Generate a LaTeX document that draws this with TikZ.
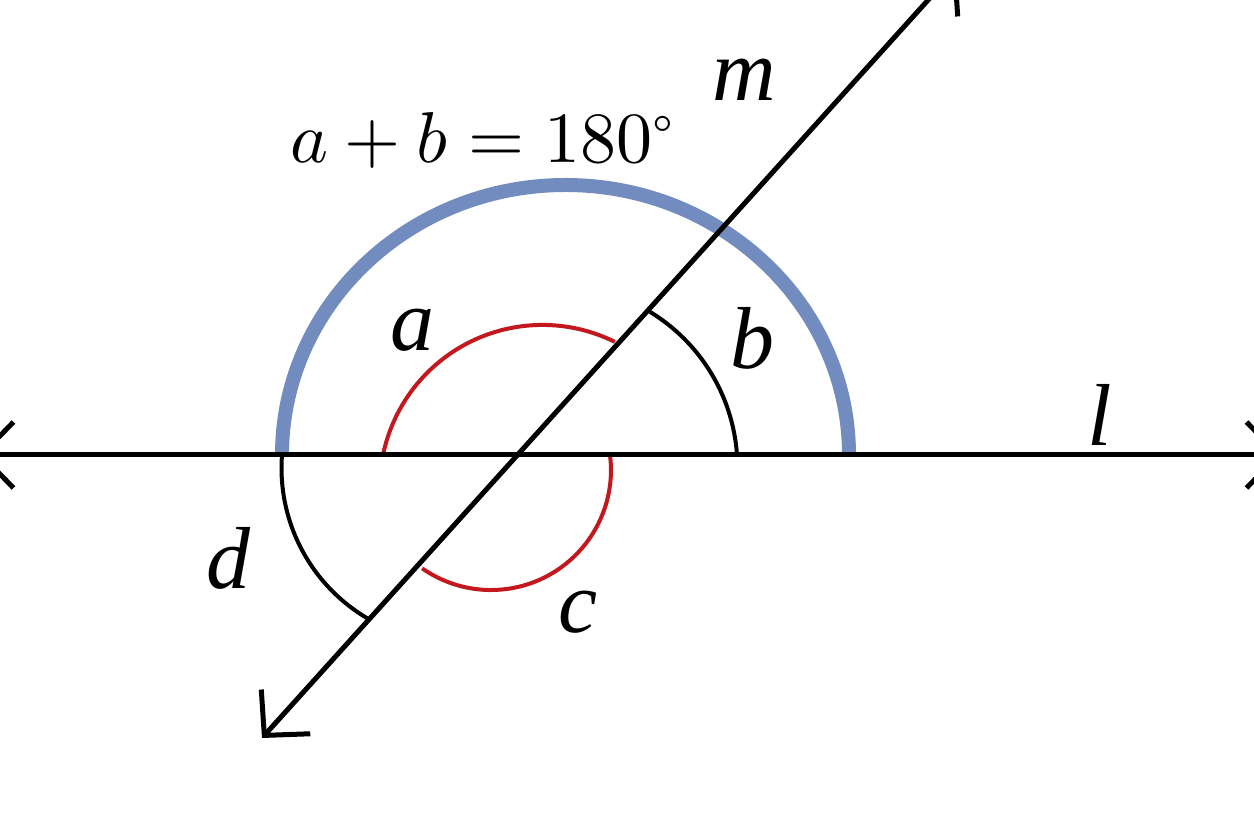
\documentclass[tikz,border=0pt]{standalone}
\usepackage{fontspec}
\usepackage{unicode-math}
\setmathfont{Latin Modern Math}
\newfontfamily\labfont{Liberation Serif}
\usetikzlibrary{arrows.meta}
\definecolor{arcblue}{RGB}{115,140,192}
\definecolor{arcred}{RGB}{195,25,30}
\tikzset{
  mainline/.style={line width=5pt, black, {Straight Barb[length=32pt,width=66pt]}-{Straight Barb[length=32pt,width=66pt]}},
  blackarc/.style={line width=4pt, black},
  redarc/.style={line width=4pt, arcred},
  bluearc/.style={line width=14pt, arcblue},
  lab/.style={inner sep=0pt, font=\fontsize{88}{100}\selectfont\labfont\itshape},
}
\begin{document}
\begin{tikzpicture}[x=1pt,y=1pt]
\useasboundingbox (0,0) rectangle (1254,832);
\clip (0,0) rectangle (1254,832);
\fill[white] (0,0) rectangle (1254,832);
% key points
\coordinate (O) at (518,377);
\coordinate (lL) at (-22,377);
\coordinate (lR) at (1282,377);
\coordinate (mB) at (262,94);
\coordinate (mT) at (957,864);
% blue semicircle
\coordinate (bl) at (282,377);
\draw[bluearc] (bl) arc[start angle=180, end angle=0, x radius=283.5, y radius=270];
% red arcs
\coordinate (as) at (383,377);
\draw[redarc] (as) arc[start angle=168.4, end angle=63.6, radius=162.8];
\coordinate (cs) at (610,377);
\draw[redarc] (cs) arc[start angle=7.2, end angle=-125, radius=120];
% black arcs
\coordinate (bs) at (737,377);
\draw[blackarc] (bs) arc[start angle=3.9, end angle=58.7, radius=182];
\coordinate (ds) at (282,377);
\draw[blackarc] (ds) arc[start angle=175.7, end angle=240.5, radius=174.4];
% lines
\draw[mainline] (lL) -- (lR);
\draw[mainline] (mB) -- (mT);
% labels
\node[lab] (labm) at (744,752) {m};
\node[lab] (laba) at (412,502) {a};
\node[lab] (labb) at (752,494) {b};
\node[lab] (labl) at (1100,417) {l};
\node[lab] (labd) at (228,274) {d};
\node[lab] (labc) at (578,220) {c};
\node[inner sep=0pt, anchor=base, font=\fontsize{72}{86}\selectfont] (eq) at (482,669) {$a+b=180^\circ$};
\end{tikzpicture}
\end{document}
